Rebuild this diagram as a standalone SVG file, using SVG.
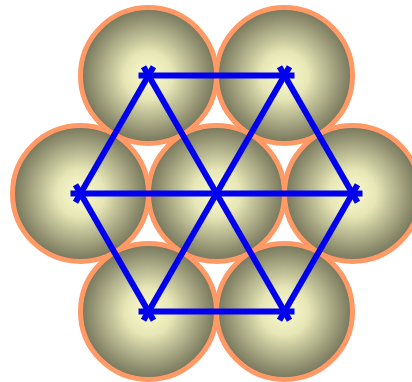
<svg xmlns="http://www.w3.org/2000/svg" width="412" height="382" viewBox="0 0 412 382">
<defs>
<radialGradient id="ball" cx="50%" cy="50%" r="50%">
<stop offset="0" stop-color="#fbfbcc"/>
<stop offset="0.35" stop-color="#e6e6b6"/>
<stop offset="1" stop-color="#74745a"/>
</radialGradient>
</defs>
<style>
.ball{fill:url(#ball);stroke:#ff9966;stroke-width:5}
.edge{stroke:#0000ee;stroke-width:6;stroke-linecap:butt;fill:none}
</style>
<rect width="412" height="382" fill="#ffffff"/>
<g id="n1"><circle class="ball" cx="148.5" cy="75.5" r="68"/></g>
<g id="n2"><circle class="ball" cx="284.5" cy="75.5" r="68"/></g>
<g id="n3"><circle class="ball" cx="80.5" cy="193.5" r="68"/></g>
<g id="n4"><circle class="ball" cx="216.5" cy="193.5" r="68"/></g>
<g id="n5"><circle class="ball" cx="352.5" cy="193.5" r="68"/></g>
<g id="n6"><circle class="ball" cx="148.5" cy="311.5" r="68"/></g>
<g id="n7"><circle class="ball" cx="284.5" cy="311.5" r="68"/></g>
<g id="connectors">
<line class="edge" x1="138.5" y1="75.5" x2="294.5" y2="75.5"/>
<line class="edge" x1="138.5" y1="311.5" x2="294.5" y2="311.5"/>
<line class="edge" x1="70.5" y1="193.5" x2="362.5" y2="193.5"/>
<line class="edge" x1="143.5" y1="66.84" x2="289.5" y2="320.16"/>
<line class="edge" x1="289.5" y1="66.84" x2="143.5" y2="320.16"/>
<line class="edge" x1="153.5" y1="66.84" x2="75.5" y2="202.16"/>
<line class="edge" x1="75.5" y1="184.84" x2="153.5" y2="320.16"/>
<line class="edge" x1="279.5" y1="66.84" x2="357.5" y2="202.16"/>
<line class="edge" x1="357.5" y1="184.84" x2="279.5" y2="320.16"/>
</g>
</svg>
